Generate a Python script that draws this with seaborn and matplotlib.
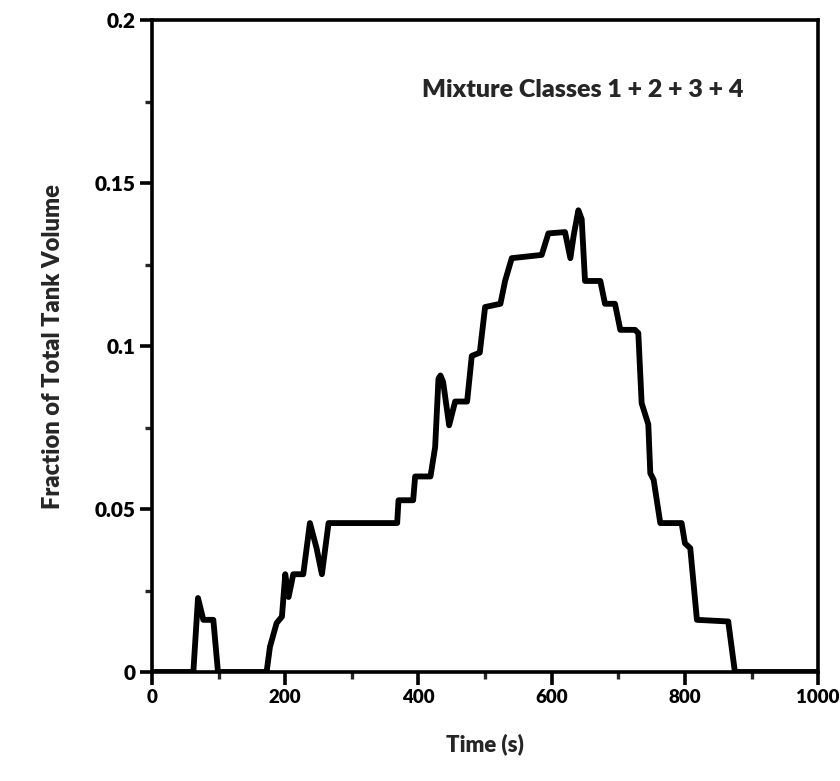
"""Fracción del volumen del tanque ocupada por las clases de mezcla 1-4."""

import matplotlib
matplotlib.use("Agg")
import matplotlib.pyplot as plt
from matplotlib.ticker import MultipleLocator
import pandas as pd
import seaborn as sns

# valores
time_s = [0, 62, 69, 77, 92, 99, 172, 177, 187, 195, 200, 205, 212, 227, 237,
          247, 255, 265, 368, 370, 392, 395, 418, 425, 430, 433, 437, 446, 455,
          473, 480, 492, 500, 523, 530, 540, 585, 595, 620, 628, 633, 640, 645,
          650, 673, 680, 695, 703, 725, 730, 735, 745, 748, 753, 763, 795, 800,
          808, 818, 865, 875, 1000]
fraction = [0, 0, 0.0227, 0.016, 0.016, 0, 0, 0.0077, 0.015, 0.017, 0.030,
            0.023, 0.030, 0.030, 0.0457, 0.038, 0.030, 0.0457, 0.0457, 0.0527,
            0.0527, 0.060, 0.060, 0.069, 0.090, 0.091, 0.089, 0.0757, 0.083,
            0.083, 0.097, 0.098, 0.112, 0.113, 0.120, 0.127, 0.128, 0.1346,
            0.135, 0.127, 0.134, 0.1417, 0.139, 0.120, 0.120, 0.113, 0.113,
            0.105, 0.105, 0.104, 0.0825, 0.076, 0.061, 0.059, 0.0457, 0.0457,
            0.0395, 0.038, 0.016, 0.0155, 0, 0]

df = pd.DataFrame({"Time (s)": time_s, "fraction": fraction})

sns.set_style("ticks")
plt.rcParams["font.family"] = ["Lato", "DejaVu Sans"]
plt.rcParams["font.weight"] = "heavy"

fig = plt.figure(figsize=(8.4, 7.81), dpi=100)
ax = fig.add_axes([0.181, 0.1396, 0.793, 0.8344])

sns.lineplot(data=df, x="Time (s)", y="fraction", color="black",
             linewidth=4.2, ax=ax, sort=False)

ax.set_xlim(0, 1000)
ax.set_ylim(0, 0.2)
ax.xaxis.set_major_locator(MultipleLocator(200))
ax.xaxis.set_minor_locator(MultipleLocator(100))
ax.yaxis.set_minor_locator(MultipleLocator(0.025))
ax.set_yticks([0, 0.05, 0.1, 0.15, 0.2])
ax.set_yticklabels(["0", "0.05", "0.1", "0.15", "0.2"])

for side in ax.spines.values():
    side.set_linewidth(2.6)
    side.set_color("black")
ax.tick_params(which="major", length=9, width=2.6, labelsize=15, pad=3, colors="black")
ax.tick_params(axis="x", which="major", labelsize=13.5)
ax.tick_params(which="minor", length=5, width=2.4)

ax.set_xlabel("Time (s)", fontsize=16, fontweight="heavy", labelpad=20)
ax.set_ylabel("Fraction of Total Tank Volume", fontsize=17, fontweight="heavy", labelpad=22)
ax.text(0.647, 0.893, "Mixture Classes 1 + 2 + 3 + 4", transform=ax.transAxes,
        ha="center", va="center", fontsize=18, fontweight="heavy")

fig.savefig("out.png", dpi=100)
plt.close(fig)
